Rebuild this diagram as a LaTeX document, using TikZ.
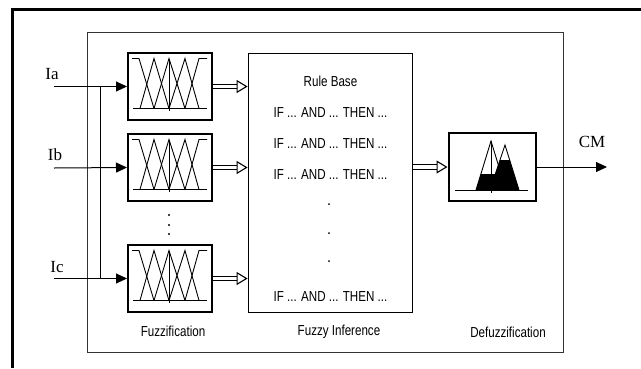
\documentclass[tikz,border=0pt]{standalone}
\usepackage{fontspec}
\usepackage{tikz}
\usetikzlibrary{arrows.meta, positioning, calc}
\newfontfamily\blockfont[FakeStretch=0.8]{Liberation Sans}
\newfontfamily\signalfont{Liberation Serif}

\begin{document}
\begin{tikzpicture}[
    x=1pt, y=-1pt,
    fuzz/.style={rectangle, draw, line width=2pt, minimum width=84pt, minimum height=67pt, inner sep=0pt},
    rules/.style={rectangle, draw, line width=1.8pt, minimum width=164pt, minimum height=259pt, inner sep=0pt},
    defuzz/.style={rectangle, draw, line width=2pt, minimum width=87pt, minimum height=68pt, inner sep=0pt},
    txt/.style={font=\blockfont\fontsize{14.5}{17}\selectfont, inner sep=0pt},
    sig/.style={font=\signalfont\fontsize{17}{19}\selectfont, inner sep=0pt},
    arr/.style={-{Triangle[length=11pt, width=10pt]}, line width=1pt},
    dblarr/.style={double, double distance=3.5pt, line width=1.1pt, -{Triangle[open, length=11pt, width=13pt]}},
    mf/.style={line width=0.9pt}
]
    \useasboundingbox (0,0) rectangle (641,368);
    \draw[line width=3pt] (12.5,368) -- (12.5,9.5) -- (641,9.5);

    \node[draw, black!80, line width=1pt, minimum width=476pt, minimum height=320pt, inner sep=0pt] (system) at (325,192) {};

    % fuzzifiers
    \node[fuzz] (fa) at (170,86.5) {};
    \node[fuzz, below=12pt of fa] (fb) {};
    \node[fuzz] (fc) at (170,278.5) {};
    \foreach \b in {fa,fb,fc} {
        \begin{scope}[shift={(\b.center)}, mf]
            \draw (-37,22) -- (37,22);
            \draw (-38,-28) -- (-31,-28) -- (-16,22);
            \draw (-30,22) -- (-16,-28) -- (-1,22);
            \draw (-16,22) -- (-1,-28) -- (15,22);
            \draw (-1,22) -- (15,-28) -- (29,22);
            \draw (15,22) -- (29,-28) -- (37,-28);
            \draw (-1,-28) -- (-1,24);
        \end{scope}
    }
    \foreach \y in {215,225,234} \fill (169,\y) circle (1.2);

    % rule base
    \node[rules] (rb) at (330.5,183) {};
    \node[txt] (rbtitle) at (330.5,81) {Rule Base};
    \foreach \y [count=\i] in {113,144,175,297}
        \node[txt] (if\i) at (330.5,\y) {IF ... AND ... THEN ...};
    \foreach \y in {204,233,261} \fill (329,\y) circle (1);

    % defuzzifier
    \node[defuzz] (df) at (492,167) {};
    \begin{scope}[mf]
        \fill (476,190) -- (480.9,174) -- (495.3,174) -- (500,160) -- (509.7,160) -- (519,190) -- cycle;
        \draw (476,190) -- (491,141) -- (506,190);
        \draw (490,190) -- (505,145) -- (519,190);
        \draw (455,190) -- (528,190);
        \draw (491,141) -- (491,193);
    \end{scope}

    % signals
    \coordinate (ina) at (54,86.5);
    \coordinate (inb) at (54,168);
    \coordinate (inc) at (54,278.5);
    \coordinate (busx) at (100,0);
    \coordinate (outm) at (607,167);
    \node[sig] (lia) at (52,74) {Ia};
    \node[sig] (lib) at (55,155) {Ib};
    \node[sig] (lic) at (57,267) {Ic};
    \node[sig] (lcm) at (592,142) {CM};

    \draw[arr] (ina) -- (fa.west);
    \draw[arr] (inb) -- (fb.west);
    \draw[arr] (inc) -- (fc.west);
    \draw[line width=1pt] (ina -| busx) -- (inc -| busx);

    \draw[dblarr] (fa.east) -- (fa.east -| rb.west);
    \draw[dblarr] (fb.east) -- (fb.east -| rb.west);
    \draw[dblarr] (fc.east) -- (fc.east -| rb.west);
    \draw[dblarr] (rb.east |- df.west) -- (df.west);
    \draw[arr] (df.east) -- (outm);

    \node[txt] (lfuzz) at (173,331) {Fuzzification};
    \node[txt] (linf) at (339,332) {Fuzzy Inference};
    \node[txt] (ldef) at (508,332) {Defuzzification};
\end{tikzpicture}
\end{document}
